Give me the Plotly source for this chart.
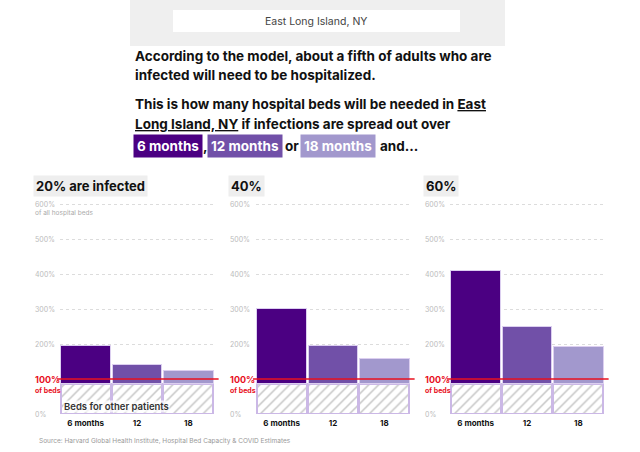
import plotly.graph_objects as go

# ---------------- data ----------------
periods = ["6 months", "12", "18"]
panel_titles = ["20% are infected", "40%", "60%"]
beds_20 = [195, 142, 123]   # % of all hospital beds needed
beds_40 = [302, 195, 159]
beds_60 = [409, 249, 193]
other_patients = [86, 86, 86]  # beds used by other patients (%)
y_ticks = [0, 200, 300, 400, 500, 600]
y_ticklabels = ["0%", "200%", "300%", "400%", "500%", "600%"]
period_colors = ["#4b0082", "#7150a8", "#a298cd"]

W, H = 640, 452
FONT = "Inter"

def px(x):
    return x / W

def py(y):
    return 1 - y / H

fig = go.Figure()

panels = [beds_20, beds_40, beds_60]
x_domains = [(60, 214), (256, 410), (450, 604)]
label_x = [33, 228, 423]
Y_TOP = 610
y_dom = [py(414), py(414 - Y_TOP * 0.35)]

annotations = []
shapes = []

for i, vals in enumerate(panels):
    sfx = "" if i == 0 else str(i + 1)
    xa, ya = "x" + sfx, "y" + sfx
    # hatched base: beds for other patients
    fig.add_trace(go.Bar(
        x=periods, y=other_patients, xaxis=xa, yaxis=ya,
        marker=dict(color="white",
                    line=dict(color="#cbb8e6", width=1.5),
                    pattern=dict(shape="/", fgcolor="#8c8c8c", bgcolor="white",
                                 size=7, solidity=0.22, fillmode="overlay")),
        showlegend=False, hoverinfo="skip"))
    # covid demand above it
    fig.add_trace(go.Bar(
        x=periods, y=[v - o for v, o in zip(vals, other_patients)],
        xaxis=xa, yaxis=ya,
        marker=dict(color=period_colors, line=dict(color="#dccff0", width=1)),
        showlegend=False, hoverinfo="skip"))

    d = x_domains[i]
    fig.layout["xaxis" + sfx] = dict(
        domain=[px(d[0]), px(d[1])], anchor=ya, range=[-0.5, 2.5],
        showgrid=False, zeroline=False, showline=False,
        tickfont=dict(family=FONT, size=8, color="#111", weight=700),
        ticks="", ticklabelstandoff=3, fixedrange=True)
    fig.layout["yaxis" + sfx] = dict(
        domain=y_dom, anchor=xa, range=[0, Y_TOP],
        tickvals=y_ticks, showticklabels=False,
        showgrid=True, gridcolor="#dcdcdc", griddash="3px,3px", gridwidth=1,
        zeroline=False, showline=False, fixedrange=True)

    # y labels
    for v, t in zip(y_ticks, y_ticklabels):
        annotations.append(dict(x=px(label_x[i]), xref="paper", y=v, yref=ya,
                                text=t, showarrow=False, xanchor="left", yanchor="middle",
                                font=dict(family=FONT, size=7, color="#bbbbbb")))
    # 100% red line and label
    shapes.append(dict(type="line", xref=xa + " domain", yref=ya,
                       x0=-0.02, x1=1.03, y0=100, y1=100,
                       line=dict(color="#e8101e", width=1.5)))
    annotations.append(dict(x=px(label_x[i]), xref="paper", y=100, yref=ya,
                            text="<b>100%</b>", showarrow=False, xanchor="left", yanchor="middle",
                            font=dict(family=FONT, size=9, color="#e8101e")))
    annotations.append(dict(x=px(label_x[i]), xref="paper", y=68, yref=ya,
                            text="<b>of beds</b>", showarrow=False, xanchor="left", yanchor="middle",
                            font=dict(family=FONT, size=7, color="#e8101e")))
    # panel title
    annotations.append(dict(x=px(label_x[i]), xref="paper", y=py(186), yref="paper",
                            text="<b>" + panel_titles[i] + "</b>", showarrow=False,
                            xanchor="left", yanchor="middle", bgcolor="#eeeeee", borderpad=2,
                            font=dict(family=FONT, size=13, color="#111")))

annotations.append(dict(x=px(33), xref="paper", y=py(213), yref="paper",
                        text="of all hospital beds", showarrow=False, xanchor="left",
                        yanchor="middle", font=dict(family=FONT, size=6.5, color="#aaaaaa")))
annotations.append(dict(x=px(63), xref="paper", y=py(406), yref="paper",
                        text="Beds for other patients", showarrow=False, xanchor="left",
                        yanchor="middle", bgcolor="rgba(255,255,255,0.75)", borderpad=0,
                        font=dict(family=FONT, size=9.5, color="#333", weight=600)))
annotations.append(dict(x=px(37), xref="paper", y=py(441), yref="paper",
                        text="Source: Harvard Global Health Institute, Hospital Bed Capacity & COVID Estimates",
                        showarrow=False, xanchor="left", yanchor="middle",
                        font=dict(family=FONT, size=6.5, color="#999999")))

# header box
shapes.append(dict(type="rect", xref="paper", yref="paper", x0=px(130), x1=px(505),
                   y0=py(46), y1=py(0), fillcolor="#efefef", line=dict(width=0), layer="below"))
shapes.append(dict(type="rect", xref="paper", yref="paper", x0=px(173), x1=px(460),
                   y0=py(32), y1=py(10), fillcolor="white", line=dict(width=0), layer="below"))
annotations.append(dict(x=px(316), xref="paper", y=py(21), yref="paper",
                        text="East Long Island, NY", showarrow=False, xanchor="center",
                        yanchor="middle", font=dict(family=FONT, size=10.5, color="#444")))

para_font = dict(family=FONT, size=13.5, color="#111", weight=700)
lines = [
    (56, "According to the model, about a fifth of adults who are"),
    (75, "infected will need to be hospitalized."),
    (104, 'This is how many hospital beds will be needed in <span style="text-decoration:underline">East</span>'),
    (124, '<span style="text-decoration:underline">Long Island, NY</span> if infections are spread out over'),
]
for yy, t in lines:
    annotations.append(dict(x=px(133), xref="paper", y=py(yy), yref="paper", text=t,
                            showarrow=False, xanchor="left", yanchor="middle", font=para_font))

# chips line
chip_font = dict(family=FONT, size=13.5, color="white", weight=700)
chips = [(133, "6 months", period_colors[0]), (207, "12 months", period_colors[1]),
         (300, "18 months", period_colors[2])]
for xx, t, c in chips:
    annotations.append(dict(x=px(xx), xref="paper", y=py(146), yref="paper", text=t,
                            showarrow=False, xanchor="left", yanchor="middle", bgcolor=c,
                            borderpad=3, font=chip_font))
for xx, t in [(201, ","), (283, "or"), (378, "and...")]:
    annotations.append(dict(x=px(xx), xref="paper", y=py(146), yref="paper", text=t,
                            showarrow=False, xanchor="left", yanchor="middle", font=para_font))

fig.update_layout(
    width=W, height=H, margin=dict(l=0, r=0, t=0, b=0),
    paper_bgcolor="white", plot_bgcolor="white",
    barmode="stack", bargap=0.035,
    annotations=annotations, shapes=shapes,
    font=dict(family=FONT),
)

fig.write_html("out.html", config={"displayModeBar": False},
               post_script="document.body.style.margin='0';")
